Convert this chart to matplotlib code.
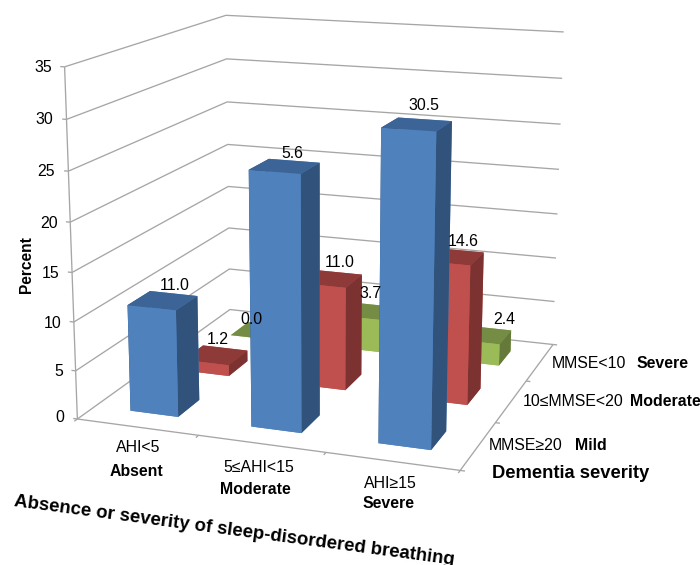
import numpy as np
import matplotlib
matplotlib.use('Agg')
import matplotlib.pyplot as plt

plt.rcParams['font.family'] = ['Liberation Sans', 'DejaVu Sans']

# ---- data ----
ahi_labels = ['AHI<5', '5≤AHI<15', 'AHI≥15']
ahi_names = ['Absent', 'Moderate', 'Severe']
mmse_labels = ['MMSE≥20', '10≤MMSE<20', 'MMSE<10']
mmse_names = ['Mild', 'Moderate', 'Severe']
mild_values = [11.0, 25.6, 30.5]
moderate_values = [1.2, 11.0, 14.6]
severe_values = [0.0, 3.7, 2.4]
mild_labels = ['11.0', '5.6', '30.5']
moderate_labels = ['1.2', '11.0', '14.6']
severe_labels = ['0.0', '3.7', '2.4']
z_ticks = [0, 5, 10, 15, 20, 25, 30, 35]

W, H = 700, 565
fig = plt.figure(figsize=(W / 100, H / 100), dpi=100)
ax = fig.add_subplot(projection='3d', computed_zorder=False)

# camera fitted to the reference's floor and wall corners
ax.set_box_aspect((1.0053, 1, 0.9021))
ax.view_init(elev=14.1492, azim=-70.4583, roll=-0.0706)
ax.set_proj_type('persp', focal_length=0.5246)
ax.set_axis_off()

# place the axes so the projection lands on the right pixels
scale, cx, cy = 3337.2049, 330.1772, 217.7963
vl = ax.viewLim
side = scale * vl.width
left = cx + scale * vl.x0
bottom_px = cy - scale * vl.y0
ax.set_position([left / W, 1 - bottom_px / H, side / W, side / H])

nx = len(ahi_labels)
ny = len(mmse_labels)
zmax = z_ticks[-1]
GRID = '#A6A6A6'
LW = 0.95


def seg(xs, ys, zs):
    ax.plot(xs, ys, zs, color=GRID, lw=LW, zorder=1, solid_capstyle='butt')


# walls and floor outline
for z in z_ticks:
    seg([-0.035, 0], [0, 0], [z, z])
    seg([0, 0, nx], [0, ny, ny], [z, z, z])
seg([0, 0], [0, 0], [0, zmax])
seg([0, nx, nx], [0, 0, ny], [0, 0, 0])
for i in range(nx + 1):
    seg([i, i], [0, -0.05], [0, 0])
for j in range(ny + 1):
    seg([nx, nx + 0.035], [j, j], [0, 0])

# bars: back row first, left to right
pad, bw = 0.3, 0.4
rows = [
    (2, severe_values, ['#9BBB59', '#748C43', '#9BBB59', '#9BBB59', '#657A3A', '#657A3A']),
    (1, moderate_values, ['#C0504D', '#8E3A38', '#C0504D', '#C0504D', '#7C3230', '#7C3230']),
    (0, mild_values, ['#4F81BD', '#3C6496', '#4F81BD', '#4F81BD', '#31527B', '#31527B']),
]
zo = 5
for j, vals, face in rows:
    for i, v in enumerate(vals):
        ax.bar3d(i + pad, j + pad, 0, bw, bw, v, color=face, shade=False,
                 edgecolor='none', linewidth=0, zorder=zo)
        zo += 1

ax.set_xlim(0, nx)
ax.set_ylim(0, ny)
ax.set_zlim(0, zmax)


def T(x, y, s, **kw):
    kw.setdefault('ha', 'center')
    kw.setdefault('va', 'center')
    kw.setdefault('fontsize', 11.4)
    kw.setdefault('color', '#000000')
    fig.text(x / W, 1 - y / H, s, **kw)


# data labels
for (x, y), s in zip([(175, 285), (292, 153), (424, 106)], mild_labels):
    T(x, y, s, zorder=50)
for (x, y), s in zip([(218, 340), (340, 263), (463, 241)], moderate_labels):
    T(x, y, s, zorder=50)
for (x, y), s in zip([(251, 320), (371, 294), (504, 319)], severe_labels):
    T(x, y, s, zorder=50)

# z tick labels
for (x, y), s in zip([(64, 418), (63, 371), (62, 323), (59, 273), (57.5, 223), (55, 172), (53, 119), (52, 67)], z_ticks):
    T(x, y, str(s), ha='right')

# x category labels
for (x, y), s in zip([(138, 448), (259, 468), (390, 483)], ahi_labels):
    T(x, y, s)
for (x, y), s in zip([(136, 472), (255, 490), (389, 503)], ahi_names):
    T(x, y, s, fontweight='bold')

# depth category labels
for (x, y), s in zip([(526, 446), (573, 402), (589, 363)], mmse_labels):
    T(x, y, s)
for (x, y), s in zip([(591, 446), (665, 402), (663, 363)], mmse_names):
    T(x, y, s, fontweight='bold')

# axis titles
T(27, 265, 'Percent', rotation=90, fontweight='bold', fontsize=11.2)
T(571, 473, 'Dementia severity', fontweight='bold', fontsize=13.2)
T(234, 531, 'Absence or severity of sleep-disordered breathing', rotation=-7.6,
  rotation_mode='anchor', fontweight='bold', fontsize=13.4)

fig.savefig('out.png', dpi=100)
